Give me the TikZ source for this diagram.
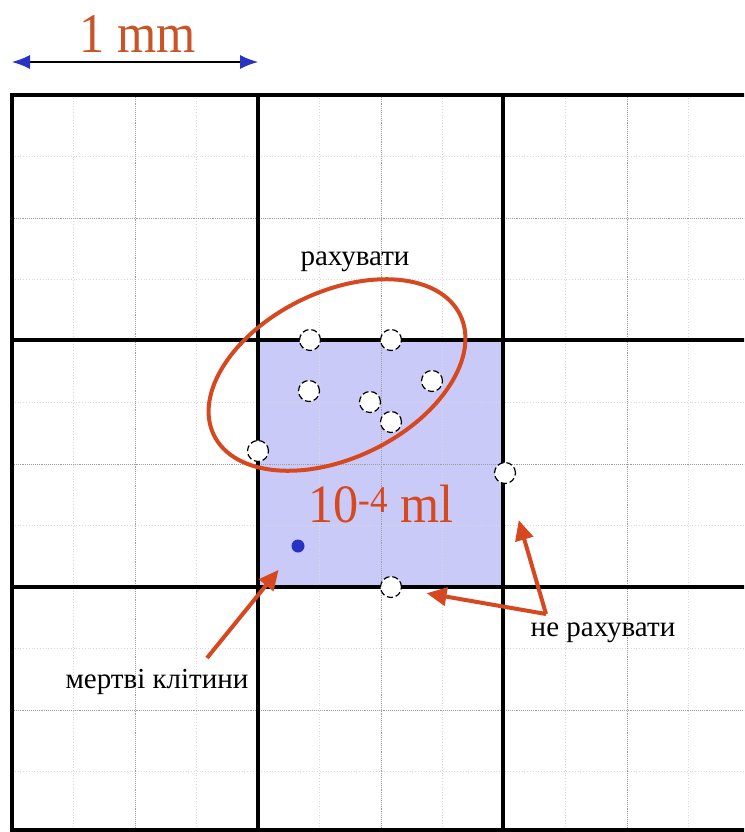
\documentclass[tikz,border=0pt]{standalone}
\usepackage{fontspec}
\setmainfont{Liberation Serif}
\usetikzlibrary{arrows.meta, positioning, shapes.geometric}

\definecolor{cellblue}{RGB}{202,202,248}
\definecolor{inkred}{RGB}{214,72,32}
\definecolor{mmred}{RGB}{200,84,40}
\definecolor{tipblue}{RGB}{40,50,195}

\tikzset{
  thickline/.style={line width=3.5pt, black},
  midline/.style={densely dotted, gray!75, line width=0.9pt},
  quarterline/.style={dotted, gray!30, line width=0.8pt},
  livecell/.style={circle, draw=black, dashed, dash pattern=on 6pt off 3pt,
    fill=white, minimum size=21pt, inner sep=0pt, line width=1.2pt},
  deadcell/.style={circle, fill=tipblue, minimum size=13pt, inner sep=0pt},
  pointer/.style={inkred, line width=4pt,
    -{Triangle[length=20pt, width=18pt]}},
  lbl/.style={font=\fontsize{29}{33}\selectfont, inner sep=1pt},
}

\begin{document}
\begin{tikzpicture}[x=1pt, y=-1pt]
  \useasboundingbox (0,0) rectangle (744,832);
  \clip (0,0) rectangle (744,832);
  \fill[white] (0,0) rectangle (744,832);

  % counting square
  \fill[cellblue] (258,340) rectangle (503,587);

  % fine grid
  \foreach \k in {1,3,5,7,9,11} {
    \draw[quarterline] ({12+61.5*\k},95) -- ({12+61.5*\k},832);
    \draw[quarterline] (12,{95+61.5*\k}) -- (760,{95+61.5*\k});
  }
  \foreach \k in {2,6,10} {
    \draw[midline] ({12+61.5*\k},95) -- ({12+61.5*\k},832);
    \draw[midline] (12,{95+61.5*\k}) -- (760,{95+61.5*\k});
  }

  % main grid
  \draw[thickline] (12,95) rectangle (750,830);
  \draw[thickline] (258,95) -- (258,830);
  \draw[thickline] (503,95) -- (503,830);
  \draw[thickline] (12,340) -- (750,340);
  \draw[thickline] (12,587) -- (750,587);

  % scale bar
  \coordinate (mmL) at (12,62);
  \coordinate (mmR) at (258,62);
  \draw[line width=1.2pt, {Latex[length=18pt, width=14pt, tipblue]}-{Latex[length=18pt, width=14pt, tipblue]}]
    (mmL) -- (mmR);
  \node[anchor=base, text=mmred, inner sep=0pt] (mmlbl) at (138,53)
    {\fontsize{56}{60}\selectfont\scalebox{0.9}[1]{1 mm}};

  % ring round the counted cells
  \node[ellipse, draw=inkred, line width=4pt, minimum width=274pt,
    minimum height=166pt, rotate=26] (ring) at (337,375) {};

  % cells
  \foreach \name/\px/\py in {c1/310/340, c2/391/340, c3/432/381, c4/309/391,
      c5/370/402, c6/391/422, c7/258/451, c8/505/473, c9/391/587} {
    \node[livecell] (\name) at (\px,\py) {};
  }
  \node[deadcell] (dead) at (298,546) {};

  % labels
  \node[lbl] (countlbl) at (355,262) {рахувати};
  \node[lbl] (skiplbl) at (603,633) {не рахувати};
  \node[lbl] (deadlbl) at (157,682) {мертві клітини};
  \node[anchor=base, text=inkred, inner sep=0pt] (vollbl) at (381,522)
    {\fontsize{54}{58}\selectfont\scalebox{0.93}[1]{10\textsuperscript{-4} ml}};

  % pointers
  \coordinate (deadtail) at (207,658);
  \coordinate (skiptail) at (546,614);
  \draw[pointer, shorten >=24pt] (deadtail) -- (dead);
  \draw[pointer, shorten >=25pt] (skiptail) -- (c9);
  \draw[pointer, shorten >=38pt] (skiptail) -- (c8);
\end{tikzpicture}
\end{document}
